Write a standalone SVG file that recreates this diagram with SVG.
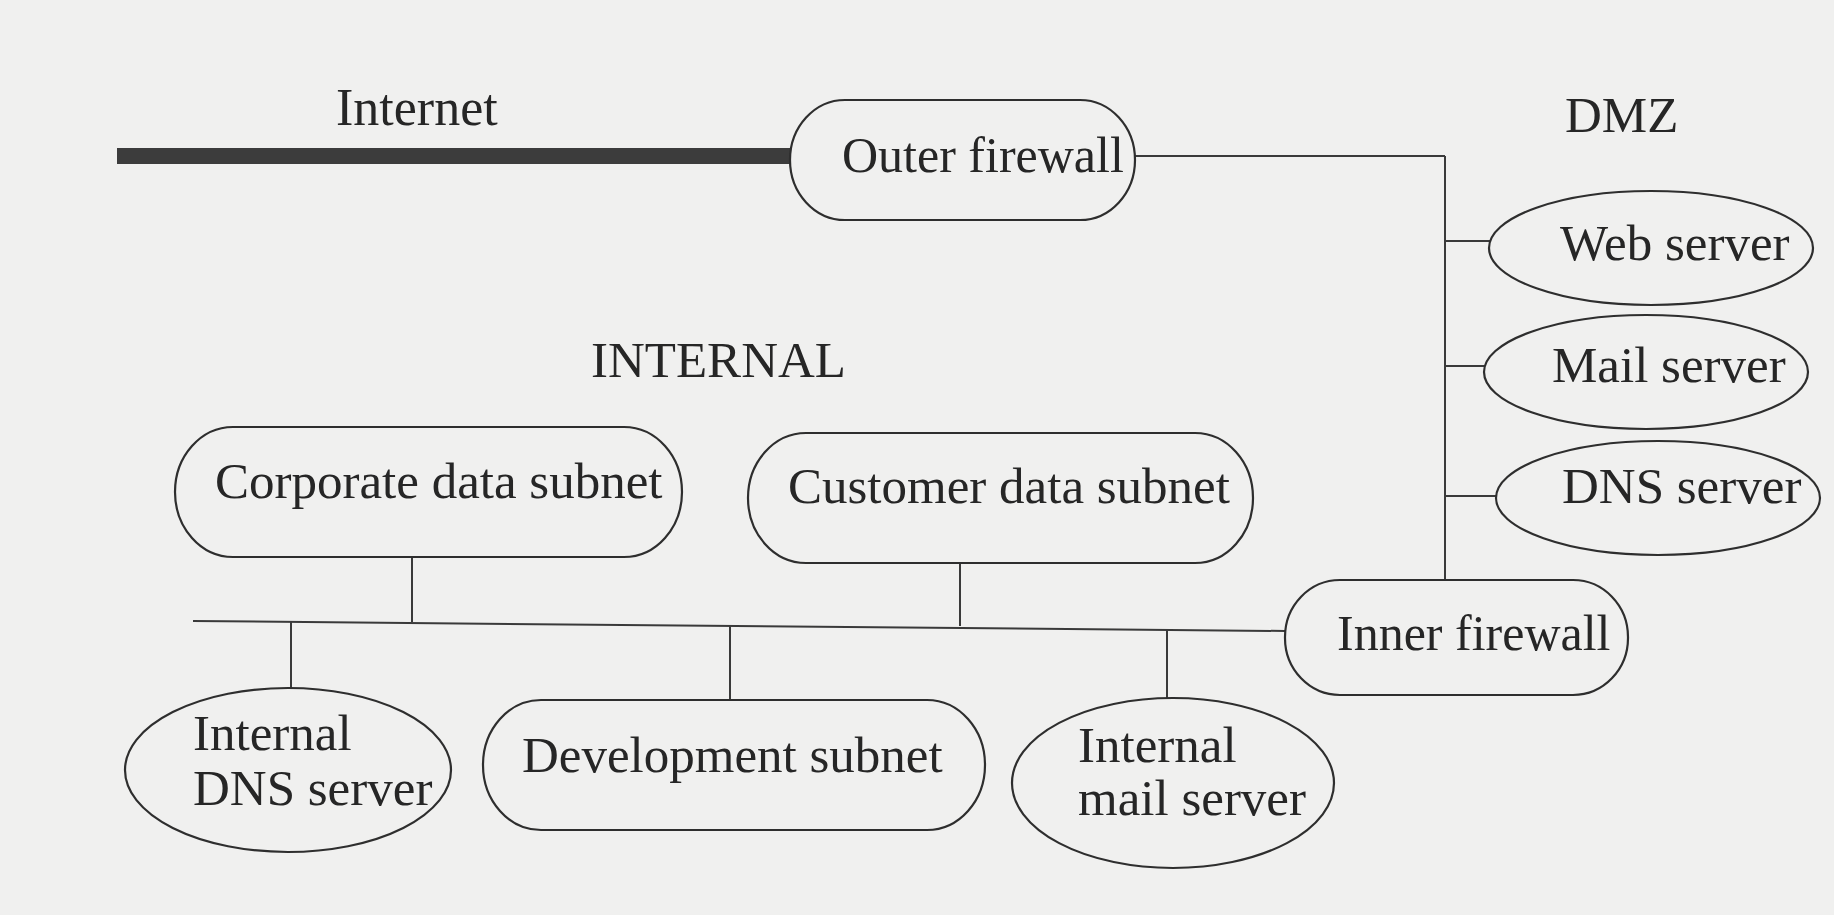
<svg xmlns="http://www.w3.org/2000/svg" width="1834" height="915" viewBox="0 0 1834 915">
<style>
.bg{fill:#f0f0ef}
.shape{fill:none;stroke:#2e2e2e;stroke-width:2.2}
.conn{stroke:#3a3a3a;stroke-width:2;fill:none}
.thick{stroke:#3c3c3c;stroke-width:16;fill:none}
text{font-family:"Liberation Serif","Times New Roman",serif;font-size:51px;fill:#262626}
</style>
<rect class="bg" x="0" y="0" width="1834" height="915"/>
<g id="connectors">
<line class="thick" x1="117" y1="156" x2="790" y2="156"/>
<line class="conn" x1="1135" y1="156" x2="1445" y2="156"/>
<line class="conn" x1="1445" y1="156" x2="1445" y2="580"/>
<line class="conn" x1="1445" y1="241" x2="1490" y2="241"/>
<line class="conn" x1="1445" y1="366" x2="1485" y2="366"/>
<line class="conn" x1="1445" y1="496" x2="1497" y2="496"/>
<line class="conn" x1="193" y1="621" x2="1285" y2="631"/>
<line class="conn" x1="412" y1="557" x2="412" y2="622"/>
<line class="conn" x1="960" y1="563" x2="960" y2="626"/>
<line class="conn" x1="291" y1="622" x2="291" y2="688"/>
<line class="conn" x1="730" y1="626" x2="730" y2="700"/>
<line class="conn" x1="1167" y1="630" x2="1167" y2="698"/>
</g>
<g id="labels">
<text x="336" y="125" style="font-size:52px">Internet</text>
<text x="1565" y="132">DMZ</text>
<text x="591" y="377">INTERNAL</text>
</g>
<g id="outer-firewall">
<rect class="shape" x="790" y="100" width="345" height="120" rx="55" ry="60"/>
<text x="842" y="172" style="font-size:50px">Outer firewall</text>
</g>
<g id="web-server">
<ellipse class="shape" cx="1651" cy="248" rx="162" ry="57"/>
<text x="1560" y="260">Web server</text>
</g>
<g id="mail-server">
<ellipse class="shape" cx="1646" cy="372" rx="162" ry="57"/>
<text x="1552" y="382">Mail server</text>
</g>
<g id="dns-server">
<ellipse class="shape" cx="1658" cy="498" rx="162" ry="57"/>
<text x="1562" y="503">DNS server</text>
</g>
<g id="corporate-data-subnet">
<rect class="shape" x="175" y="427" width="507" height="130" rx="58" ry="65"/>
<text x="215" y="498">Corporate data subnet</text>
</g>
<g id="customer-data-subnet">
<rect class="shape" x="748" y="433" width="505" height="130" rx="58" ry="65"/>
<text x="788" y="503">Customer data subnet</text>
</g>
<g id="inner-firewall">
<rect class="shape" x="1285" y="580" width="343" height="115" rx="55" ry="57"/>
<text x="1337" y="650" style="font-size:50px">Inner firewall</text>
</g>
<g id="internal-dns-server">
<ellipse class="shape" cx="288" cy="770" rx="163" ry="82"/>
<text x="193" y="750">Internal</text>
<text x="193" y="805">DNS server</text>
</g>
<g id="development-subnet">
<rect class="shape" x="483" y="700" width="502" height="130" rx="58" ry="65"/>
<text x="522" y="772">Development subnet</text>
</g>
<g id="internal-mail-server">
<ellipse class="shape" cx="1173" cy="783" rx="161" ry="85"/>
<text x="1078" y="762">Internal</text>
<text x="1078" y="815">mail server</text>
</g>
</svg>
